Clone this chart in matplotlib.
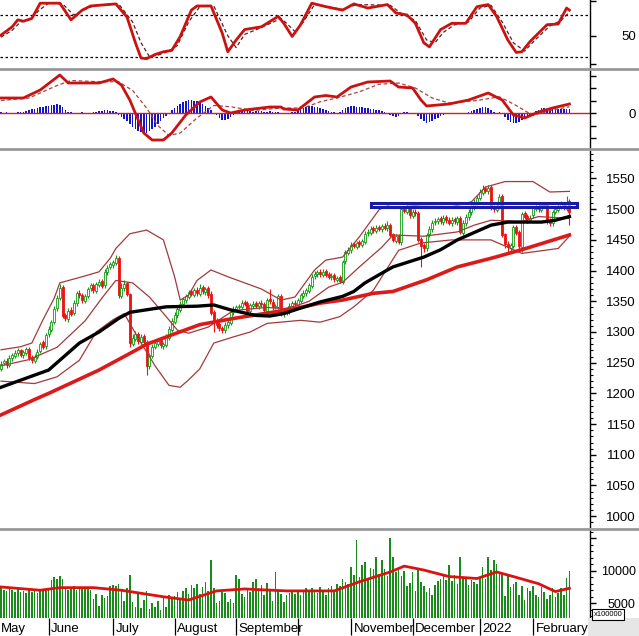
import numpy as np
import matplotlib.pyplot as plt
from matplotlib.patches import Rectangle
from matplotlib.lines import Line2D

plt.rcParams['font.family'] = ['Liberation Sans', 'DejaVu Sans']

# ---- daily candles (one per trading day, May 2021 -> Feb 2022) ----
opens = [
    1240, 1250, 1253, 1247, 1257, 1261, 1265, 1270, 1262, 1266,
    1272, 1259, 1253, 1260, 1269, 1283, 1277, 1296, 1304, 1317,
    1339, 1356, 1373, 1327, 1321, 1336, 1331, 1347, 1364, 1361,
    1351, 1359, 1371, 1377, 1367, 1377, 1383, 1376, 1397, 1406,
    1409, 1413, 1421, 1359, 1371, 1379, 1362, 1281, 1289, 1297,
    1284, 1293, 1284, 1244, 1261, 1276, 1281, 1287, 1277, 1279,
    1291, 1304, 1317, 1327, 1336, 1345, 1352, 1357, 1366, 1361,
    1369, 1362, 1373, 1365, 1371, 1362, 1332, 1319, 1313, 1307,
    1303, 1311, 1315, 1332, 1337, 1341, 1341, 1349, 1347, 1334,
    1343, 1347, 1342, 1348, 1346, 1335, 1353, 1349, 1341, 1341,
    1359, 1329, 1332, 1334, 1342, 1348, 1344, 1351, 1359, 1363,
    1367, 1375, 1391, 1394, 1398, 1393, 1399, 1394, 1389, 1393,
    1385, 1389, 1382, 1415, 1429, 1433, 1443, 1439, 1446, 1442,
    1447, 1461, 1462, 1469, 1465, 1471, 1467, 1473, 1469, 1475,
    1459, 1449, 1457, 1446, 1501, 1496, 1503, 1489, 1496, 1494,
    1451, 1441, 1436, 1459, 1467, 1479, 1480, 1485, 1479, 1487,
    1483, 1477, 1484, 1479, 1486, 1462, 1477, 1487, 1495, 1503,
    1511, 1519, 1527, 1534, 1529, 1536, 1503, 1499, 1504, 1521,
    1459, 1444, 1437, 1440, 1471, 1463, 1439, 1493, 1489, 1483,
    1490, 1501, 1506, 1499, 1508, 1507, 1481, 1477, 1496, 1499,
    1504, 1509, 1501, 1514]
highs = [
    1252, 1256, 1257, 1262, 1266, 1270, 1274, 1273, 1271, 1276,
    1275, 1262, 1264, 1272, 1284, 1287, 1299, 1309, 1320, 1342,
    1360, 1378, 1376, 1331, 1339, 1340, 1352, 1367, 1368, 1364,
    1362, 1374, 1380, 1380, 1382, 1386, 1387, 1402, 1409, 1414,
    1418, 1426, 1424, 1380, 1384, 1382, 1364, 1296, 1302, 1300,
    1297, 1296, 1287, 1266, 1280, 1286, 1290, 1290, 1284, 1296,
    1309, 1322, 1332, 1341, 1350, 1357, 1362, 1369, 1370, 1372,
    1373, 1378, 1377, 1374, 1375, 1366, 1336, 1323, 1316, 1310,
    1316, 1320, 1337, 1342, 1344, 1346, 1352, 1352, 1350, 1348,
    1350, 1351, 1351, 1352, 1349, 1356, 1370, 1353, 1346, 1362,
    1362, 1337, 1339, 1347, 1351, 1352, 1356, 1364, 1368, 1372,
    1380, 1394, 1399, 1401, 1402, 1402, 1403, 1398, 1396, 1396,
    1392, 1393, 1418, 1434, 1438, 1446, 1447, 1449, 1450, 1452,
    1464, 1467, 1472, 1473, 1474, 1475, 1476, 1477, 1480, 1478,
    1462, 1460, 1460, 1506, 1505, 1508, 1506, 1500, 1500, 1497,
    1454, 1445, 1462, 1472, 1482, 1486, 1488, 1489, 1490, 1490,
    1487, 1487, 1488, 1489, 1489, 1482, 1492, 1500, 1507, 1517,
    1523, 1533, 1540, 1538, 1539, 1539, 1507, 1510, 1524, 1524,
    1462, 1448, 1445, 1475, 1474, 1466, 1496, 1497, 1492, 1490,
    1506, 1510, 1509, 1511, 1512, 1509, 1485, 1499, 1504, 1509,
    1513, 1512, 1522, 1516]
lows = [
    1236, 1246, 1242, 1243, 1253, 1257, 1261, 1259, 1258, 1262,
    1254, 1250, 1249, 1256, 1265, 1272, 1273, 1292, 1300, 1313,
    1335, 1352, 1322, 1318, 1317, 1326, 1327, 1343, 1356, 1348,
    1347, 1355, 1367, 1364, 1363, 1373, 1371, 1372, 1393, 1402,
    1405, 1409, 1355, 1355, 1367, 1358, 1275, 1277, 1285, 1281,
    1280, 1279, 1230, 1240, 1257, 1272, 1277, 1274, 1273, 1275,
    1287, 1300, 1313, 1323, 1332, 1341, 1348, 1353, 1358, 1357,
    1359, 1358, 1362, 1361, 1356, 1327, 1300, 1306, 1302, 1298,
    1299, 1307, 1311, 1328, 1333, 1337, 1337, 1342, 1331, 1330,
    1339, 1339, 1338, 1341, 1332, 1331, 1346, 1336, 1337, 1337,
    1326, 1325, 1328, 1330, 1338, 1341, 1340, 1347, 1355, 1359,
    1363, 1371, 1387, 1390, 1390, 1389, 1389, 1386, 1385, 1382,
    1381, 1379, 1378, 1411, 1425, 1429, 1436, 1435, 1439, 1438,
    1443, 1457, 1458, 1462, 1461, 1464, 1463, 1466, 1465, 1454,
    1446, 1445, 1443, 1442, 1493, 1492, 1486, 1485, 1489, 1446,
    1406, 1430, 1432, 1455, 1463, 1475, 1476, 1476, 1475, 1478,
    1474, 1473, 1476, 1475, 1459, 1458, 1473, 1483, 1491, 1499,
    1507, 1515, 1523, 1526, 1525, 1498, 1495, 1495, 1500, 1454,
    1436, 1430, 1432, 1436, 1458, 1430, 1430, 1484, 1478, 1479,
    1486, 1497, 1496, 1495, 1502, 1476, 1472, 1473, 1492, 1495,
    1500, 1498, 1497, 1474]
closes = [
    1248, 1252, 1246, 1258, 1262, 1266, 1270, 1263, 1267, 1272,
    1258, 1254, 1260, 1268, 1280, 1276, 1295, 1305, 1316, 1338,
    1355, 1372, 1326, 1322, 1335, 1330, 1348, 1363, 1360, 1352,
    1358, 1370, 1376, 1368, 1378, 1382, 1375, 1398, 1405, 1410,
    1414, 1420, 1360, 1372, 1378, 1362, 1282, 1290, 1296, 1285,
    1292, 1283, 1245, 1262, 1275, 1282, 1286, 1278, 1280, 1292,
    1305, 1318, 1328, 1337, 1346, 1353, 1358, 1365, 1362, 1368,
    1363, 1372, 1366, 1370, 1360, 1331, 1318, 1312, 1306, 1304,
    1312, 1316, 1333, 1338, 1340, 1342, 1348, 1346, 1335, 1344,
    1346, 1343, 1347, 1345, 1336, 1352, 1350, 1340, 1342, 1358,
    1330, 1333, 1335, 1343, 1347, 1345, 1352, 1360, 1364, 1368,
    1376, 1390, 1395, 1397, 1394, 1398, 1393, 1390, 1392, 1386,
    1388, 1383, 1414, 1430, 1434, 1442, 1440, 1445, 1443, 1448,
    1460, 1463, 1468, 1466, 1470, 1468, 1472, 1470, 1474, 1458,
    1450, 1456, 1447, 1500, 1497, 1502, 1490, 1495, 1493, 1450,
    1440, 1437, 1458, 1468, 1478, 1481, 1484, 1480, 1486, 1482,
    1478, 1483, 1480, 1485, 1463, 1478, 1488, 1496, 1502, 1512,
    1518, 1528, 1533, 1530, 1535, 1502, 1500, 1505, 1520, 1458,
    1443, 1438, 1441, 1471, 1462, 1440, 1492, 1488, 1484, 1486,
    1502, 1505, 1500, 1507, 1506, 1480, 1478, 1495, 1500, 1505,
    1508, 1502, 1512, 1496]

# volume, in units of 100000 shares
volume = [
    7400, 7100, 6900, 7300, 7000, 6800, 7200, 6700, 6900, 6600,
    7000, 6800, 7100, 6600, 6900, 7200, 7000, 7300, 8600, 9100,
    8800, 9200, 8700, 7400, 7000, 7300, 7600, 7100, 7400, 7200,
    7300, 7500, 7000, 5600, 6400, 4600, 6300, 5800, 6100, 7600,
    7800, 7600, 8000, 7100, 5300, 7400, 9400, 5200, 4400, 6700,
    4300, 5500, 6900, 4100, 5000, 4400, 5300, 3900, 5800, 4400,
    6300, 5800, 6100, 6800, 5700, 6900, 7300, 6400, 7800, 7300,
    8000, 6500, 7500, 8300, 6900, 11600, 7400, 5100, 5400, 6700,
    6600, 5200, 5600, 5000, 9300, 8800, 6400, 5900, 7400, 6800,
    8300, 8700, 7100, 7800, 6300, 8100, 6900, 5300, 9800, 7000,
    6500, 5200, 6200, 6600, 6900, 6500, 7100, 6300, 6900, 7300,
    6800, 7300, 7000, 6600, 7500, 7100, 6200, 7400, 7700, 6900,
    8000, 7600, 8700, 8300, 7900, 10500, 9400, 14700, 9100, 10800,
    11400, 8800, 10400, 10300, 12100, 9500, 11600, 10200, 9200, 15000,
    12100, 9800, 10100, 9200, 9900, 7600, 8100, 9800, 6900, 10100,
    8200, 7600, 6800, 7300, 6200, 7800, 8400, 8800, 9200, 8600,
    10900, 8400, 9300, 8000, 12100, 9000, 8700, 7800, 8500, 8200,
    7900, 9000, 10600, 8800, 12100, 10100, 11600, 11100, 9700, 9500,
    6100, 9500, 7500, 8000, 8200, 6300, 7600, 5500, 7400, 6900,
    7600, 6300, 5900, 7500, 6800, 5600, 6200, 7300, 5900, 6600,
    7400, 6200, 8900, 9900]

# MACD histogram (one per day)
macd_hist = [
    0.3, 0.2, 0.3, 0.2, 0.1, 0.2, 0.3, 0.4, 0.6, 0.9,
    1.2, 1.5, 1.8, 2.1, 2.3, 2.6, 2.8, 3.0, 3.2, 3.4,
    3.6, 3.3, 2.5, 1.4, 0.6, 0.3, 0.2, 0.1, 0.2, 0.3,
    0.2, 0.1, 0.2, 0.3, 0.5, 0.7, 1.0, 1.2, 1.1, 0.9,
    0.8, 0.6, -0.6, -1.4, -2.2, -3.2, -4.5, -5.6, -6.3, -7.0,
    -7.6, -8.0, -7.8, -7.2, -6.4, -5.4, -4.3, -3.2, -2.0, -1.0,
    0.2, 1.2, 2.2, 3.0, 3.7, 4.3, 4.8, 5.1, 5.2, 5.0,
    4.7, 4.2, 3.6, 3.0, 2.2, 1.2, 0.2, -0.9, -1.8, -2.6,
    -2.8, -2.2, -1.4, -0.6, 0.3, 0.5, 0.7, 0.8, 0.9, 0.7,
    0.6, 0.8, 0.9, 0.7, 0.5, 0.6, 0.8, 0.5, 0.3, 0.4,
    0.2, 0.1, -0.2, -0.3, 0.3, 0.6, 1.0, 1.5, 2.0, 2.4,
    2.7, 2.8, 2.6, 2.3, 2.0, 1.6, 1.2, 0.8, 0.5, 0.3,
    0.2, 0.5, 1.2, 2.0, 2.4, 2.7, 2.8, 2.6, 2.5, 2.3,
    2.1, 1.9, 1.7, 1.5, 1.3, 1.1, 0.8, 0.5, 0.2, -0.6,
    -1.2, -1.6, -1.0, 0.2, 0.4, 0.3, 0.1, 0.2, -0.3, -1.2,
    -2.2, -3.2, -4.0, -3.6, -3.0, -2.4, -1.8, -1.2, -0.6, -0.3,
    -0.2, 0.1, 0.2, -0.2, -0.5, -0.3, 0.2, 0.6, 1.0, 1.4,
    1.8, 2.2, 2.4, 2.3, 2.0, 1.2, 0.6, 0.2, 0.4, -0.4,
    -1.5, -2.6, -3.6, -4.0, -3.8, -3.6, -2.6, -2.0, -1.4, -0.6,
    0.2, 0.8, 1.4, 1.9, 2.1, 1.8, 1.6, 1.7, 1.9, 1.8,
    1.7, 1.6, 1.8, 1.5]

# ---- indicator lines, read at sample days (day index, value) ----
ma_long_idx = [0, 12, 17, 35, 46, 52, 62, 71, 83, 94, 105, 114, 122, 133, 140, 152, 163, 175, 186, 203]
ma_long_val = [1165, 1190, 1200, 1238, 1265, 1280, 1297, 1312, 1322, 1330, 1338, 1347, 1352, 1363, 1366, 1385, 1406, 1420, 1434, 1458]

ma_mid_idx = [0, 17, 28, 35, 42, 46, 59, 70, 76, 82, 91, 96, 101, 105, 114, 122, 126, 130, 138, 140, 151, 157, 163, 175, 181, 193, 198, 203]
ma_mid_val = [1210, 1238, 1282, 1300, 1322, 1332, 1341, 1342, 1344, 1336, 1327, 1326, 1330, 1336, 1349, 1358, 1366, 1380, 1401, 1406, 1422, 1434, 1450, 1474, 1479, 1479, 1482, 1488]

bb_up_idx = [0, 7, 11, 15, 19, 21, 29, 35, 39, 41, 46, 52, 58, 62, 64, 67, 70, 75, 81, 93, 100, 105, 112, 116, 122, 128, 135, 140, 150, 161, 168, 173, 180, 190, 196, 203]
bb_up_val = [1271, 1276, 1282, 1320, 1355, 1380, 1390, 1398, 1420, 1436, 1460, 1466, 1450, 1390, 1352, 1360, 1384, 1401, 1390, 1370, 1352, 1357, 1401, 1417, 1422, 1455, 1499, 1510, 1505, 1504, 1512, 1536, 1545, 1545, 1528, 1529]

bb_mid_idx = [0, 10, 20, 30, 36, 41, 47, 53, 59, 63, 67, 74, 83, 95, 101, 105, 110, 117, 122, 128, 136, 140, 151, 163, 169, 175, 186, 192, 203]
bb_mid_val = [1245, 1255, 1275, 1318, 1355, 1384, 1380, 1357, 1325, 1303, 1298, 1308, 1335, 1340, 1338, 1342, 1350, 1373, 1381, 1406, 1438, 1458, 1456, 1463, 1474, 1482, 1480, 1488, 1485]

bb_lo_idx = [0, 12, 20, 28, 34, 40, 44, 49, 55, 60, 64, 67, 71, 76, 83, 89, 95, 107, 114, 121, 126, 133, 142, 150, 161, 175, 182, 186, 199, 203]
bb_lo_val = [1220, 1216, 1227, 1254, 1300, 1320, 1330, 1290, 1245, 1213, 1210, 1222, 1240, 1282, 1292, 1300, 1314, 1319, 1316, 1325, 1341, 1368, 1433, 1445, 1450, 1450, 1436, 1428, 1436, 1456]

stoch_k_idx = [0, 4, 6, 8, 11, 14, 21, 25, 29, 32, 41, 45, 48, 50, 52, 55, 58, 61, 64, 68, 70, 75, 79, 81, 84, 87, 93, 99, 101, 104, 107, 111, 116, 122, 126, 131, 138, 141, 145, 148, 151, 153, 157, 161, 166, 170, 174, 177, 181, 184, 186, 189, 195, 199, 202, 203]
stoch_k_val = [51, 63, 73, 71, 75, 97, 97, 73, 87, 93, 96, 77, 40, 18, 17, 23, 27, 29, 49, 87, 93, 93, 54, 27, 44, 59, 63, 78, 68, 49, 66, 97, 92, 87, 96, 90, 95, 83, 80, 68, 40, 34, 59, 68, 68, 92, 95, 78, 44, 26, 27, 42, 66, 67, 90, 87]

stoch_d_idx = [0, 4, 7, 10, 14, 17, 22, 26, 30, 33, 42, 47, 50, 53, 56, 60, 63, 67, 71, 76, 81, 84, 87, 93, 100, 102, 105, 108, 112, 122, 127, 139, 143, 148, 152, 155, 158, 162, 167, 171, 175, 179, 183, 187, 191, 196, 200, 203]
stoch_d_val = [48, 58, 70, 73, 88, 97, 96, 80, 88, 93, 96, 70, 40, 20, 22, 28, 36, 70, 92, 93, 50, 33, 52, 62, 75, 68, 56, 70, 95, 88, 95, 94, 82, 72, 44, 40, 55, 66, 70, 90, 94, 70, 40, 28, 45, 64, 72, 84]

macd_idx = [0, 8, 14, 21, 24, 35, 40, 43, 46, 49, 51, 54, 58, 61, 66, 71, 75, 79, 82, 87, 96, 100, 101, 106, 112, 116, 120, 125, 131, 139, 142, 147, 150, 152, 160, 167, 174, 179, 183, 187, 192, 197, 203]
macd_val = [6, 6, 9.2, 15.2, 12, 12, 13.6, 11.2, 5.2, -2.8, -8, -10.8, -10.8, -8, -0.8, 4.4, 6.4, 1.2, 0, 1.2, 2.4, 2.4, 1.6, 1.2, 6.4, 7, 6.4, 10.4, 12.4, 12.8, 10.4, 10, 5.2, 2.8, 3.6, 5.2, 8, 5.2, -0.8, -2, 0.4, 2, 3.6]

signal_idx = [0, 10, 20, 25, 35, 42, 47, 52, 56, 60, 64, 70, 76, 82, 90, 100, 108, 114, 120, 128, 135, 142, 148, 154, 160, 170, 178, 184, 190, 196, 203]
signal_val = [5, 6, 11, 13, 12.5, 12.5, 9, 2, -5, -9, -8, -2, 3, 2.5, 1, 2, 2, 4.5, 6, 8.5, 11.5, 12, 10, 6, 4, 5, 6.5, 3, -1, 1, 2.5]

vol_ma_idx = [0, 14, 21, 33, 43, 58, 67, 77, 87, 102, 119, 128, 139, 144, 151, 160, 170, 177, 183, 192, 198, 203]
vol_ma_val = [7500, 7000, 7400, 7400, 7000, 6000, 5500, 6900, 7200, 6900, 6900, 8300, 9800, 10700, 10100, 9100, 8800, 9800, 9100, 8000, 6800, 7300]

month_idx = [17, 40, 62, 84, 106, 125, 147, 171, 190]
month_lbl = ['June', 'July', 'August', 'September', '', 'November', 'December', '2022', 'February']

# resistance zone
zone_lo, zone_hi = 1504, 1510.5

# ---------------------------------------------------------------
W, H = 639, 636
fig = plt.figure(figsize=(W / 100, H / 100), dpi=100)


def panel(top, bottom):
    return fig.add_axes([0, 1 - bottom / H, 590 / W, (bottom - top) / H])


ax_st = panel(0, 68)
ax_md = panel(70, 148)
ax_pr = panel(150, 527)
ax_vo = panel(530, 618)

days = np.arange(len(closes))
XL = (-0.36, 210.36)


def style(ax, ylim, major, labels, minor=None):
    ax.set_xlim(*XL)
    ax.set_ylim(*ylim)
    for s in ['left', 'top', 'bottom']:
        ax.spines[s].set_visible(False)
    ax.spines['right'].set_linewidth(1.0)
    ax.yaxis.tick_right()
    ax.set_yticks(major)
    ax.set_yticklabels(labels)
    if minor is not None:
        ax.set_yticks(minor, minor=True)
    ax.tick_params(axis='y', which='major', length=4, width=1, pad=29, labelsize=9.5)
    ax.tick_params(axis='y', which='minor', length=2.2, width=0.8)
    for lb in ax.get_yticklabels():
        lb.set_horizontalalignment('right')
    ax.set_xticks([])


# stochastic
ax_st.axhline(80, color='k', lw=0.9, ls=(0, (2, 2)))
ax_st.axhline(20, color='k', lw=0.9, ls=(0, (2, 2)))
ax_st.plot(stoch_d_idx, stoch_d_val, color='#552222', lw=0.9, ls=(0, (3, 2)))
ax_st.plot(stoch_k_idx, stoch_k_val, color='#cc1111', lw=2)
style(ax_st, (3.6, 101.6), [10, 50, 100], ['', '50', ''])

# MACD
ax_md.bar(days, macd_hist, width=0.6, color='#1414c8')
ax_md.axhline(0, color='#cc2222', lw=1)
ax_md.plot(signal_idx, signal_val, color='#aa4444', lw=0.9, ls=(0, (3, 2)))
ax_md.plot(macd_idx, macd_val, color='#cc1111', lw=2)
style(ax_md, (-14, 17.2), [-10, -5, 0, 5, 10, 15], ['', '', '0', '', '', ''])

# price
o = np.array(opens)
c = np.array(closes)
up = c >= o
cols = np.where(up, '#119911', '#ee1111')
faces = np.where(up, 'white', '#ee1111')
ax_pr.vlines(days, lows, highs, colors=cols, lw=0.8, zorder=2)
ax_pr.bar(days, np.maximum(np.abs(c - o), 1.0), bottom=np.minimum(o, c), width=0.75,
          color=faces, edgecolor=cols, lw=0.6, zorder=3)
for xs, ys in [(bb_up_idx, bb_up_val), (bb_mid_idx, bb_mid_val), (bb_lo_idx, bb_lo_val)]:
    ax_pr.plot(xs, ys, color='#a33a3a', lw=0.9, zorder=4)
ax_pr.plot(ma_long_idx, ma_long_val, color='#dd1a1a', lw=2.6, zorder=5)
ax_pr.plot(ma_mid_idx, ma_mid_val, color='black', lw=2.4, zorder=5)
ax_pr.add_patch(Rectangle((132.3, zone_lo), 73.5, zone_hi - zone_lo, facecolor=(1, 1, 1, 0.45),
                          edgecolor='#1a1aaa', lw=2.2, zorder=6))
style(ax_pr, (982.4, 1596.4), np.arange(1000, 1551, 50), [str(v) for v in range(1000, 1551, 50)],
      minor=np.arange(990, 1597, 10))

# volume
ax_vo.bar(days, volume, width=0.62, color='#1a8a1a')
ax_vo.plot(vol_ma_idx, vol_ma_val, color='#dd1111', lw=2)
style(ax_vo, (2744, 16240), [5000, 10000, 15000], ['5000', '10000', ''],
      minor=np.arange(3000, 16001, 1000))
for lb in ax_vo.get_yticklabels():
    lb.set_fontsize(9)
ax_vo.set_xticks(month_idx)
ax_vo.set_xticklabels([])
ax_vo.tick_params(axis='x', length=12, width=0.9, direction='out')
ax_vo.text(-0.2, -0.12, 'May', transform=ax_vo.get_xaxis_transform(),
           ha='left', va='center', fontsize=9.5, clip_on=False)
for m, lbl in zip(month_idx, month_lbl):
    ax_vo.text(m + 0.9, -0.12, lbl, transform=ax_vo.get_xaxis_transform(),
               ha='left', va='center', fontsize=9.5, clip_on=False)

# panel separators and corner decorations
for yp in [69, 149, 528.5]:
    fig.add_artist(Line2D([0, 1], [1 - yp / H, 1 - yp / H], transform=fig.transFigure,
                          color='#999999', lw=2))
fig.add_artist(Rectangle((588 / W, 0), 51 / W, 18 / H, transform=fig.transFigure,
                         facecolor='#e6e6e6', edgecolor='none'))
fig.text(594 / W, 1 - 614.5 / H, 'x100000', fontsize=5.5, va='center', ha='left',
         bbox=dict(boxstyle='square,pad=0.2', facecolor='white', edgecolor='black', lw=0.8))

fig.savefig('out.png', dpi=100)
